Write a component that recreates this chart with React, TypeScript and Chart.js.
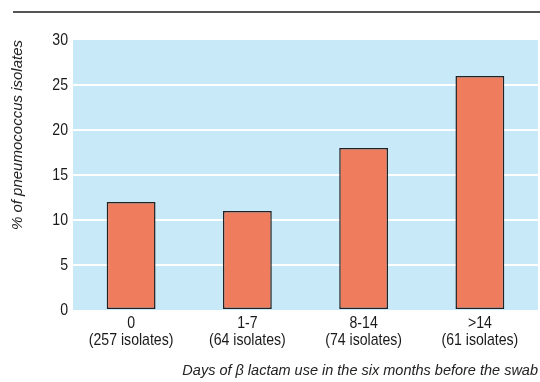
import React, { useEffect, useRef } from "react";
import { Chart, registerables } from "chart.js";

Chart.register(...registerables);

const categories: string[][] = [
  ["0", "(257 isolates)"],
  ["1-7", "(64 isolates)"],
  ["8-14", "(74 isolates)"],
  [">14", "(61 isolates)"],
];
const percentResistant: number[] = [12, 11, 18, 26];
const yTitle = "% of pneumococcus isolates";
const xTitle = "Days of β lactam use in the six months before the swab";

const FONT = '"Liberation Sans", Arial, sans-serif';
const CONDENSE = 0.83;

// Draw upright (non-italic) labels horizontally condensed, like a condensed Helvetica.
const condense = {
  id: "condense",
  beforeInit(chart: any) {
    const ctx = chart.ctx;
    const orig = ctx.fillText;
    ctx.fillText = function (text: string, x: number, y: number, maxWidth?: number) {
      if (/italic/.test(this.font)) {
        return maxWidth === undefined ? orig.call(this, text, x, y) : orig.call(this, text, x, y, maxWidth);
      }
      this.save();
      this.translate(x, y);
      this.scale(CONDENSE, 1);
      if (maxWidth === undefined) orig.call(this, text, 0, 0);
      else orig.call(this, text, 0, 0, maxWidth / CONDENSE);
      this.restore();
    };
  },
};

const decor = {
  id: "decor",
  beforeDraw(chart: any) {
    const { ctx, chartArea } = chart;
    ctx.save();
    ctx.fillStyle = "#C7E9F8";
    ctx.fillRect(chartArea.left, chartArea.top, chartArea.right - chartArea.left, chartArea.bottom - chartArea.top);
    ctx.strokeStyle = "#555555";
    ctx.lineWidth = 2;
    ctx.beginPath();
    ctx.moveTo(13, 12);
    ctx.lineTo(540, 12);
    ctx.stroke();
    ctx.restore();
  },
};

export default function App() {
  const ref = useRef<HTMLCanvasElement>(null);
  useEffect(() => {
    if (!ref.current) return;
    const chart = new Chart(ref.current, {
      type: "bar",
      data: {
        labels: categories,
        datasets: [
          {
            data: percentResistant,
            backgroundColor: "#F07C5E",
            borderColor: "#222222",
            borderWidth: 1.5,
            borderSkipped: false,
            categoryPercentage: 1,
            barPercentage: 0.42,
          },
        ],
      },
      options: {
        animation: false,
        responsive: false,
        maintainAspectRatio: false,
        layout: { padding: { left: 0, right: 2, top: 40, bottom: 0 } },
        plugins: { legend: { display: false }, tooltip: { enabled: false } },
        scales: {
          x: {
            grid: { display: false, drawTicks: false },
            border: { display: false },
            ticks: {
              color: "#1a1a1a",
              padding: 5,
              font: { family: FONT, size: 17, lineHeight: 1.0 },
              maxRotation: 0,
              autoSkip: false,
            },
            title: {
              display: true,
              text: xTitle,
              align: "end",
              color: "#222",
              font: { family: FONT, size: 14.5, style: "italic", lineHeight: 1 },
              padding: { top: 0, bottom: 4 },
            },
            afterFit: (scale: any) => {
              scale.height = 72;
            },
          },
          y: {
            min: 0,
            max: 30,
            ticks: {
              stepSize: 5,
              color: "#1a1a1a",
              padding: 5,
              font: { family: FONT, size: 17 },
            },
            grid: {
              drawTicks: false,
              lineWidth: 2,
              color: (c: any) => {
                const v = c.tick ? c.tick.value : 0;
                return v > 0 && v < 30 ? "#ffffff" : "rgba(0,0,0,0)";
              },
            },
            border: { display: false },
            title: {
              display: true,
              text: yTitle,
              align: "end",
              color: "#222",
              font: { family: FONT, size: 15, style: "italic", lineHeight: 1 },
              padding: { top: 10.5, bottom: 0 },
            },
            afterFit: (scale: any) => {
              scale.width = 73;
            },
          },
        },
      },
      plugins: [condense, decor],
    });
    return () => chart.destroy();
  }, []);
  return (
    <div style={{ position: "absolute", left: 0, top: 0, width: 540, height: 382, background: "#fff" }}>
      <canvas ref={ref} width={540} height={382} />
    </div>
  );
}
